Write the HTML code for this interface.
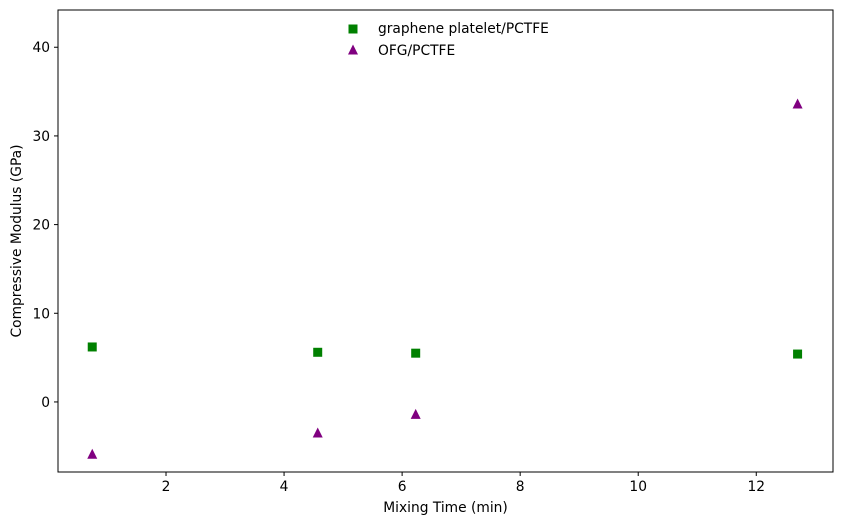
<!DOCTYPE html>
<html><head><meta charset="utf-8"><style>
body{margin:0;background:#fff;}
svg text{font-family:"DejaVu Sans","Liberation Sans",sans-serif;font-size:13.8px;fill:#000;}
</style></head><body>
<svg id="chart" width="841" height="525" xmlns="http://www.w3.org/2000/svg"></svg>
<script>
const xVals=[0.75,4.57,6.23,12.7];
const grapheneVals=[6.2,5.6,5.5,5.4];
const ofgVals=[-5.9,-3.5,-1.4,33.6];
const xTicks=[2,4,6,8,10,12];
const yTicks=[0,10,20,30,40];
const L=58,R=833,T=10,B=472;
const xMin=0.17,xMax=13.3,yMin=-7.9,yMax=44.2;
const sx=v=>L+(v-xMin)/(xMax-xMin)*(R-L);
const sy=v=>B-(v-yMin)/(yMax-yMin)*(B-T);
const svg=document.getElementById('chart');
const NS='http://www.w3.org/2000/svg';
function mk(tag,attrs,parent){const e=document.createElementNS(NS,tag);for(const k in attrs)e.setAttribute(k,attrs[k]);(parent||svg).appendChild(e);return e;}
const frame=mk('rect',{x:L,y:T,width:R-L,height:B-T,fill:'none',stroke:'#000','stroke-width':1});


xTicks.forEach(t=>{const x=sx(t);
 const l=mk('line',{x1:x,x2:x,y1:B,y2:B+4,stroke:'#000'});
 
 
 const tx=mk('text',{x:x,y:B+19,'text-anchor':'middle'});tx.textContent=t;
 
 });
yTicks.forEach(t=>{const y=sy(t);
 const l=mk('line',{x1:L-4,x2:L,y1:y,y2:y,stroke:'#000'});
 
 
 const tx=mk('text',{x:L-8,y:y+5,'text-anchor':'end'});tx.textContent=t;
 
 });
const xt=mk('text',{x:(L+R)/2,y:512,'text-anchor':'middle'});xt.textContent='Mixing Time (min)';


const yt=mk('text',{x:0,y:0,'text-anchor':'middle',transform:`translate(21,${(T+B)/2}) rotate(-90)`});yt.textContent='Compressive Modulus (GPa)';


function square(cx,cy,name){const r=mk('rect',{x:cx-4.5,y:cy-4.5,width:9,height:9,fill:'green'});
 
 }
function tri(cx,cy,name){const p=mk('polygon',{points:`${cx},${cy-5.5} ${cx+5},${cy+4.5} ${cx-5},${cy+4.5}`,fill:'purple'});
 
 }
xVals.forEach((x,i)=>{square(sx(x),sy(grapheneVals[i]),'graphene-point');tri(sx(x),sy(ofgVals[i]),'ofg-point');});
square(353,29,'legend-marker-graphene');
tri(353,50,'legend-marker-ofg');
const l1=mk('text',{x:378,y:33});l1.textContent='graphene platelet/PCTFE';


const l2=mk('text',{x:378,y:55});l2.textContent='OFG/PCTFE';


</script>
</body></html>
